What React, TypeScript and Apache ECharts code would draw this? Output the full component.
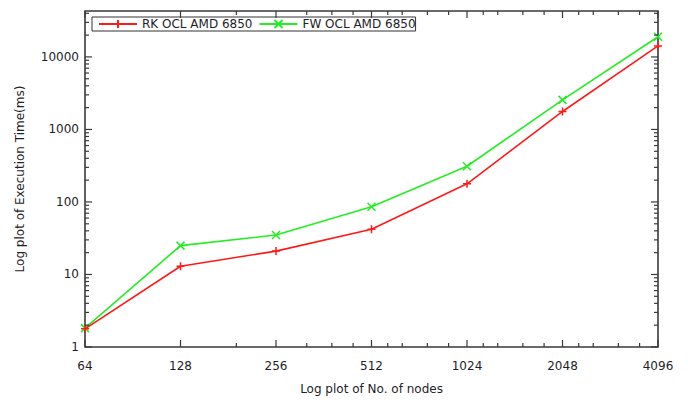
import React, { useEffect, useRef } from "react";
import * as echarts from "echarts";

// ---- data ----
const nodes = [64, 128, 256, 512, 1024, 2048, 4096];
const rkOclAmd6850 = [1.78, 13, 21, 42, 178, 1770, 14200];
const fwOclAmd6850 = [1.82, 25, 35, 86, 311, 2560, 19000];
const seriesNames = ["RK OCL AMD 6850", "FW OCL AMD 6850"];

// ---- tick values ----
const xMajorTicks = [64, 128, 256, 512, 1024, 2048, 4096];
const xMinorTicks = [192, 320, 384, 448, 576, 640, 768, 896, 1152, 1280, 1536, 1792, 2304, 2560, 3072, 3584];
const yMajorTicks = [1, 10, 100, 1000, 10000];
const yMinorTicks = [
  2, 3, 4, 5, 6, 7, 8, 9,
  20, 30, 40, 50, 60, 70, 80, 90,
  200, 300, 400, 500, 600, 700, 800, 900,
  2000, 3000, 4000, 5000, 6000, 7000, 8000, 9000,
  20000, 30000, 40000,
];

const X_MIN = 64;
const X_MAX = 4096;
const Y_MIN = 1;
const Y_MAX = 43000;

const FONT = "DejaVu Sans";
const AXIS_COLOR = "#3a3a3a";
const TEXT_COLOR = "#1e1e28";
const RED = "#ff1a1a";
const GREEN = "#22ee22";

function xTickSeries(values: number[], len: number) {
  return {
    type: "custom",
    silent: true,
    clip: false,
    z: 5,
    xAxisIndex: 0,
    yAxisIndex: 0,
    data: values.map((v) => [v, Y_MIN]),
    renderItem: (_params: any, api: any) => {
      const x = api.value(0);
      const b = api.coord([x, Y_MIN]);
      const t = api.coord([x, Y_MAX]);
      const style = { stroke: AXIS_COLOR, lineWidth: 1.2 };
      return {
        type: "group",
        children: [
          { type: "line", shape: { x1: b[0], y1: b[1], x2: b[0], y2: b[1] - len }, style },
          { type: "line", shape: { x1: t[0], y1: t[1], x2: t[0], y2: t[1] + len }, style },
        ],
      };
    },
  };
}

function yTickSeries(values: number[], len: number) {
  return {
    type: "custom",
    silent: true,
    clip: false,
    z: 5,
    xAxisIndex: 0,
    yAxisIndex: 0,
    data: values.map((v) => [X_MIN, v]),
    renderItem: (_params: any, api: any) => {
      const y = api.value(1);
      const l = api.coord([X_MIN, y]);
      const r = api.coord([X_MAX, y]);
      const style = { stroke: AXIS_COLOR, lineWidth: 1.2 };
      return {
        type: "group",
        children: [
          { type: "line", shape: { x1: l[0], y1: l[1], x2: l[0] + len, y2: l[1] }, style },
          { type: "line", shape: { x1: r[0], y1: r[1], x2: r[0] - len, y2: r[1] }, style },
        ],
      };
    },
  };
}

export default function App() {
  const ref = useRef<HTMLDivElement>(null);

  useEffect(() => {
    if (!ref.current) return;
    const chart = echarts.init(ref.current, undefined, { renderer: "svg" });
    const option: any = {
      animation: false,
      backgroundColor: "#ffffff",
      grid: {
        left: 85,
        right: 30,
        top: 11,
        bottom: 52,
        show: true,
        borderColor: AXIS_COLOR,
        borderWidth: 1.6,
        backgroundColor: "transparent",
      },
      legend: {
        left: 92,
        top: 17,
        orient: "horizontal",
        data: seriesNames,
        itemWidth: 38,
        itemHeight: 10,
        itemGap: 6,
        padding: [1, 0, 1, 6],
        borderColor: "#333",
        borderWidth: 1,
        textStyle: { fontFamily: FONT, fontSize: 12, color: TEXT_COLOR },
      },
      xAxis: {
        type: "log",
        logBase: 2,
        min: X_MIN,
        max: X_MAX,
        splitNumber: 6,
        name: "Log plot of No. of nodes",
        nameLocation: "middle",
        nameGap: 36,
        nameTextStyle: { fontFamily: FONT, fontSize: 12, color: TEXT_COLOR },
        axisLine: { show: false },
        axisTick: { show: false },
        splitLine: { show: false },
        axisLabel: {
          fontFamily: FONT,
          fontSize: 12,
          color: TEXT_COLOR,
          margin: 13,
          formatter: (v: number) => String(Math.round(v)),
        },
      },
      yAxis: {
        type: "log",
        logBase: 10,
        min: Y_MIN,
        max: Y_MAX,
        name: "Log plot of Execution Time(ms)",
        nameLocation: "middle",
        nameGap: 59,
        nameTextStyle: { fontFamily: FONT, fontSize: 12, color: TEXT_COLOR },
        axisLine: { show: false },
        axisTick: { show: false },
        splitLine: { show: false },
        axisLabel: {
          fontFamily: FONT,
          fontSize: 12,
          color: TEXT_COLOR,
          margin: 6,
          showMaxLabel: false,
          formatter: (v: number) => String(Math.round(v)),
        },
      },
      series: [
        {
          name: seriesNames[0],
          type: "line",
          data: nodes.map((n, i) => [n, rkOclAmd6850[i]]),
          symbol: "path://M0,5L10,5M5,0L5,10",
          symbolSize: 8,
          lineStyle: { color: RED, width: 1.6 },
          itemStyle: { color: RED, borderColor: RED, borderWidth: 1.5 },
          z: 3,
        },
        {
          name: seriesNames[1],
          type: "line",
          data: nodes.map((n, i) => [n, fwOclAmd6850[i]]),
          symbol: "path://M0,0L10,10M10,0L0,10",
          symbolSize: 8,
          lineStyle: { color: GREEN, width: 1.6 },
          itemStyle: { color: GREEN, borderColor: GREEN, borderWidth: 1.5 },
          z: 2,
        },
        xTickSeries(xMajorTicks, 7),
        xTickSeries(xMinorTicks, 4),
        yTickSeries(yMajorTicks, 7),
        yTickSeries(yMinorTicks, 4),
      ],
    };
    chart.setOption(option);
    return () => chart.dispose();
  }, []);

  return (
    <div
      ref={ref}
      style={{ position: "fixed", left: 0, top: 0, width: 688, height: 400 }}
    />
  );
}
